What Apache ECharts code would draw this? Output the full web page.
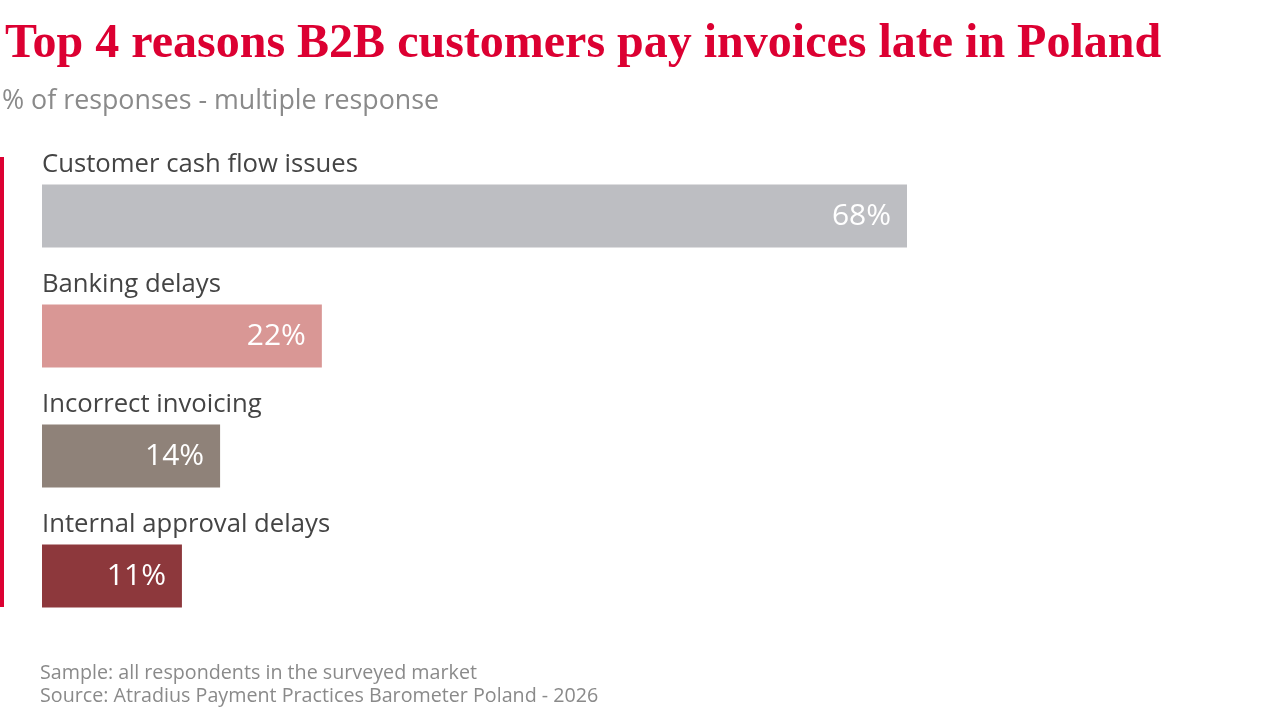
<!DOCTYPE html>
<html>
    <head>
        <meta charset="utf-8">
        <script src="https://cdn.jsdelivr.net/npm/echarts@6/dist/echarts.min.js"></script>
        <style>
            html, body, #main {
                margin: 0;
                width: 1280px;
                height: 720px;
                background: #fff;
            }
        </style>
    </head>
    <body>
        <div id="main"></div>
        <script>
            var categories = [
                'Customer cash flow issues',
                'Banking delays',
                'Incorrect invoicing',
                'Internal approval delays'
            ];
            var values = [68, 22, 14, 11];
            var barColors = ['#bdbec2', '#d99795', '#8f8279', '#8d383c'];

            var chart = echarts.init(document.getElementById('main'));

            chart.setOption({
                animation: false,
                title: [
                    {
                        text: 'Top 4 reasons B2B customers pay invoices late in Poland',
                        left: 5,
                        top: 21,
                        padding: 0,
                        textStyle: {
                            fontFamily: 'Liberation Serif',
                            fontWeight: 'bold',
                            fontSize: 48,
                            color: '#dc0032'
                        }
                    },
                    {
                        text: '% of responses - multiple response',
                        left: 2,
                        top: 88,
                        padding: 0,
                        textStyle: {
                            fontFamily: 'Open Sans',
                            fontWeight: 'normal',
                            fontSize: 26.8,
                            color: '#8a8a8a'
                        }
                    },
                    {
                        text: 'Sample: all respondents in the surveyed market\nSource: Atradius Payment Practices Barometer Poland - 2026',
                        left: 40,
                        top: 662,
                        padding: 0,
                        textStyle: {
                            fontFamily: 'Open Sans',
                            fontWeight: 'normal',
                            fontSize: 19.7,
                            lineHeight: 23,
                            color: '#8a8a8a'
                        }
                    }
                ],
                graphic: [
                    {
                        type: 'rect',
                        left: 0,
                        top: 157,
                        shape: { width: 4, height: 450 },
                        style: { fill: '#dc0032' }
                    }
                ],
                grid: {
                    left: 42,
                    right: 373,
                    top: 156,
                    height: 480
                },
                xAxis: {
                    type: 'value',
                    min: 0,
                    max: 'dataMax',
                    show: false
                },
                yAxis: {
                    type: 'category',
                    inverse: true,
                    data: categories,
                    show: false
                },
                series: [
                    {
                        type: 'bar',
                        barWidth: 63,
                        data: values.map(function (v, i) {
                            return { value: v, itemStyle: { color: barColors[i] } };
                        }),
                        label: {
                            show: true,
                            position: 'insideRight',
                            distance: 16,
                            formatter: '{c}%',
                            fontFamily: 'Open Sans',
                            fontSize: 30,
                            color: '#fff'
                        }
                    },
                    {
                        // invisible twin bars that carry the category names above each bar
                        type: 'bar',
                        barWidth: 63,
                        barGap: '-100%',
                        silent: true,
                        data: values,
                        itemStyle: { color: 'rgba(0,0,0,0)' },
                        label: {
                            show: true,
                            position: [0, -33],
                            formatter: '{b}',
                            fontFamily: 'Open Sans',
                            fontSize: 25.7,
                            color: '#444'
                        }
                    }
                ]
            });
        </script>
    </body>
</html>
